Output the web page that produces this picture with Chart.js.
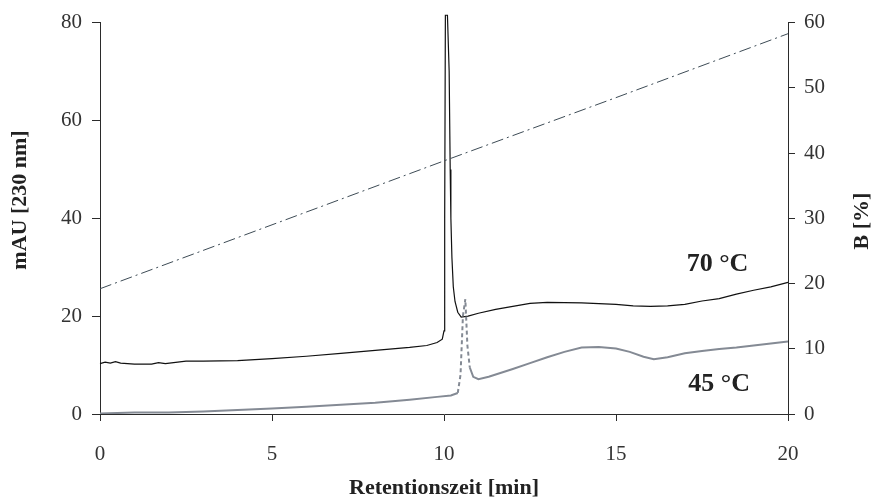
<!DOCTYPE html>
<html>
<head>
<meta charset="utf-8">
<script src="https://cdn.jsdelivr.net/npm/chart.js@4/dist/chart.umd.min.js"></script>
<style>
  html, body { margin: 0; padding: 0; background: #ffffff; }
  #wrap { width: 872px; height: 499px; }
</style>
</head>
<body>
<div id="wrap"><canvas id="c" width="872" height="499"></canvas></div>
<script>
// ---- data ----
const xTicks = [0, 5, 10, 15, 20];            // Retentionszeit [min]
const leftTicks = [0, 20, 40, 60, 80];        // mAU [230 nm]
const rightTicks = [0, 10, 20, 30, 40, 50, 60]; // B [%]

const t70 = [0, 0.15, 0.3, 0.45, 0.6, 0.8, 1.0, 1.5, 1.7, 1.9, 2.5, 3, 4, 5, 6, 7, 8, 9, 9.5, 9.8, 9.95, 10.0, 10.02, 10.04, 10.1, 10.15, 10.18, 10.2, 10.23, 10.27, 10.32, 10.4, 10.5, 10.7, 11, 11.5, 12, 12.5, 13, 14, 15, 15.5, 16, 16.5, 17, 17.5, 18, 18.5, 19, 19.5, 20];
const v70 = [10.3, 10.6, 10.4, 10.7, 10.4, 10.3, 10.2, 10.2, 10.5, 10.3, 10.8, 10.8, 10.9, 11.3, 11.8, 12.4, 13.0, 13.6, 14.0, 14.6, 15.3, 17, 40, 81.5, 81.5, 70, 50, 40, 32, 26, 23, 20.8, 19.8, 20.0, 20.6, 21.4, 22.0, 22.6, 22.8, 22.7, 22.4, 22.1, 22.0, 22.1, 22.4, 23.1, 23.6, 24.5, 25.3, 26.0, 26.9];

const t45 = [0, 1, 2, 3, 4, 5, 6, 7, 8, 9, 9.8, 10.2, 10.4, 10.48, 10.55, 10.62, 10.68, 10.75, 10.85, 11.0, 11.3, 12, 12.5, 13, 13.5, 14, 14.5, 15, 15.4, 15.8, 16.1, 16.5, 17, 17.5, 18, 18.5, 19, 19.5, 20];
const v45 = [0.1, 0.3, 0.3, 0.5, 0.8, 1.1, 1.5, 1.9, 2.3, 2.9, 3.5, 3.8, 4.3, 8, 20, 23.5, 14, 9.5, 7.6, 7.1, 7.6, 9.2, 10.4, 11.6, 12.7, 13.6, 13.7, 13.4, 12.7, 11.7, 11.2, 11.6, 12.4, 12.9, 13.3, 13.6, 14.0, 14.4, 14.8];

const tB = [0, 5, 10, 15, 20];
const vB = [19.2, 29.0, 38.8, 48.5, 58.3];

const seriesLabels = ['70 °C', '45 °C', 'B [%]'];
const axisTitles = { x: 'Retentionszeit [min]', yLeft: 'mAU [230 nm]', yRight: 'B [%]' };

const pts = (xs, ys) => xs.map((x, i) => ({ x: x, y: ys[i] }));

const SERIF = '"Liberation Serif", "DejaVu Serif", serif';
const AXIS_COLOR = '#2b2b2b';
const TICK_TEXT = '#333333';

const textPlugin = {
  id: 'texts',
  afterDraw(chart) {
    const { ctx, scales } = chart;
    const x = scales.x, yl = scales.y;
    ctx.save();
    ctx.fillStyle = '#222222';
    ctx.textAlign = 'center';
    ctx.textBaseline = 'middle';
    // axis titles
    ctx.font = 'bold 22px ' + SERIF;
    ctx.fillText(axisTitles.x, x.getPixelForValue(10), 488);
    ctx.save();
    ctx.translate(20, 200);
    ctx.rotate(-Math.PI / 2);
    ctx.fillText(axisTitles.yLeft, 0, 0);
    ctx.restore();
    ctx.save();
    ctx.translate(862, 221);
    ctx.rotate(-Math.PI / 2);
    ctx.fillText(axisTitles.yRight, 0, 0);
    ctx.restore();
    // series labels near curves
    ctx.font = 'bold 26px ' + SERIF;
    ctx.fillText(seriesLabels[0], x.getPixelForValue(17.95), yl.getPixelForValue(30.5));
    ctx.fillText(seriesLabels[1], x.getPixelForValue(18.0), yl.getPixelForValue(6.1));
    ctx.restore();
  }
};

const steep = (ctx) => {
  const dt = ctx.p1.parsed.x - ctx.p0.parsed.x;
  const dy = Math.abs(ctx.p1.parsed.y - ctx.p0.parsed.y);
  return dt > 0 && dy / dt > 40 ? [4, 3] : undefined;
};

new Chart(document.getElementById('c'), {
  type: 'line',
  data: {
    datasets: [
      {
        label: seriesLabels[2],
        data: pts(tB, vB),
        yAxisID: 'y2',
        borderColor: '#3d4b55',
        borderWidth: 1,
        borderDash: [12, 4, 2, 4],
        pointRadius: 0,
        tension: 0
      },
      {
        label: seriesLabels[1],
        data: pts(t45, v45),
        yAxisID: 'y',
        borderColor: '#848a94',
        borderWidth: 2,
        pointRadius: 0,
        tension: 0,
        segment: { borderDash: steep }
      },
      {
        label: seriesLabels[0],
        data: pts(t70, v70),
        yAxisID: 'y',
        borderColor: '#111111',
        borderWidth: 1.2,
        pointRadius: 0,
        tension: 0,
        clip: false
      }
    ]
  },
  options: {
    responsive: false,
    animation: false,
    devicePixelRatio: 1,
    layout: { padding: { top: 21, left: 0, right: 0, bottom: 0 } },
    plugins: { legend: { display: false }, tooltip: { enabled: false } },
    scales: {
      x: {
        type: 'linear',
        min: 0, max: 20,
        afterBuildTicks: (s) => { s.ticks = xTicks.map(v => ({ value: v })); },
        afterFit: (s) => { s.height = 85; },
        border: { display: true, color: AXIS_COLOR, width: 1 },
        grid: { display: true, drawOnChartArea: false, drawTicks: true, tickLength: 7, color: AXIS_COLOR },
        ticks: { color: TICK_TEXT, font: { family: SERIF, size: 21 }, padding: 21, maxRotation: 0 }
      },
      y: {
        type: 'linear',
        position: 'left',
        min: 0, max: 80,
        afterBuildTicks: (s) => { s.ticks = leftTicks.map(v => ({ value: v })); },
        afterFit: (s) => { s.width = 100; },
        border: { display: true, color: AXIS_COLOR, width: 1 },
        grid: { display: true, drawOnChartArea: false, drawTicks: true, tickLength: 8, color: AXIS_COLOR },
        ticks: { color: TICK_TEXT, font: { family: SERIF, size: 21 }, padding: 10 }
      },
      y2: {
        type: 'linear',
        position: 'right',
        min: 0, max: 60,
        afterBuildTicks: (s) => { s.ticks = rightTicks.map(v => ({ value: v })); },
        afterFit: (s) => { s.width = 84; },
        border: { display: true, color: AXIS_COLOR, width: 1 },
        grid: { display: true, drawOnChartArea: false, drawTicks: true, tickLength: 7, color: AXIS_COLOR },
        ticks: { color: TICK_TEXT, font: { family: SERIF, size: 21 }, padding: 9 }
      }
    }
  },
  plugins: [textPlugin]
});
</script>
</body>
</html>
